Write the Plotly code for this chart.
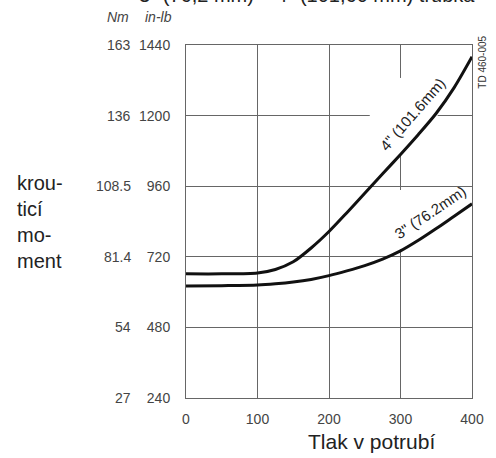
import plotly.graph_objects as go

# ---- data ----
pressure = [0, 50, 100, 125, 150, 175, 200, 225, 250, 275, 300, 325, 350, 375, 400]
torque_4in = [662, 662, 665, 677, 703, 750, 806, 870, 936, 1002, 1068, 1136, 1208, 1295, 1400]
torque_3in = [621, 622, 624, 628, 634, 643, 656, 672, 690, 712, 740, 776, 816, 858, 900]

x_ticks = [0, 100, 200, 300, 400]
y_ticks_inlb = [240, 480, 720, 960, 1200, 1440]
y_labels_inlb = ["240", "480", "720", "960", "1200", "1440"]
y_labels_nm = ["27", "54", "81.4", "108.5", "136", "163"]

label_4in = '4" (101.6mm)'
label_3in = '3" (76.2mm)'
title_text = '3" (76,2 mm) – 4" (101,60 mm) trubka'
x_title = "Tlak v potrubí"
y_title_lines = ["krou-", "ticí", "mo-", "ment"]
doc_code = "TD 460-005"

FONT = "Liberation Sans, Arial, sans-serif"
GRID = "#666666"
LBL = "#444444"

fig = go.Figure()
for ys in (torque_4in, torque_3in):
    fig.add_trace(go.Scatter(x=pressure, y=ys, mode="lines",
                             line=dict(color="#111111", width=3, shape="spline", smoothing=0.8),
                             showlegend=False, hoverinfo="skip"))

W, H = 496, 458
ml, mr, mt, mb = 186, 16, 45, 60
pw, ph = W - ml - mr, H - mt - mb

def px_x(px):
    return (px - ml) / pw

def px_y(py):
    return (H - mb - py) / ph

anns = []
# Nm column
for v, t in zip(y_ticks_inlb, y_labels_nm):
    anns.append(dict(x=px_x(132), xref="paper", y=v, yref="y", text=t, showarrow=False,
                     xanchor="right", yanchor="middle", font=dict(family=FONT, size=14, color=LBL)))
# unit headers
anns.append(dict(x=px_x(129), xref="paper", y=px_y(17), yref="paper", text="<i>Nm</i>", showarrow=False,
                 xanchor="right", yanchor="middle", font=dict(family=FONT, size=14, color=LBL)))
anns.append(dict(x=px_x(174), xref="paper", y=px_y(17), yref="paper", text="<i>in-lb</i>", showarrow=False,
                 xanchor="right", yanchor="middle", font=dict(family=FONT, size=14, color=LBL)))
# y title
anns.append(dict(x=px_x(10), xref="paper", y=px_y(222), yref="paper", text="<br>".join(y_title_lines),
                 showarrow=False, xanchor="left", yanchor="middle", align="left",
                 font=dict(family=FONT, size=20, color="#222222")))
# x title
anns.append(dict(x=px_x(377), xref="paper", y=px_y(441), yref="paper", text=x_title, showarrow=False,
                 xanchor="center", yanchor="middle", font=dict(family=FONT, size=21, color="#222222")))
# top (cut) title
anns.append(dict(x=px_x(136), xref="paper", y=px_y(8), yref="paper", text=title_text, showarrow=False,
                 xanchor="left", yanchor="bottom", font=dict(family=FONT, size=20, color="#222222")))
# doc code
anns.append(dict(x=px_x(491), xref="paper", y=px_y(62), yref="paper", text=doc_code, showarrow=False,
                 textangle=-90, xanchor="center", yanchor="middle", font=dict(family=FONT, size=10, color="#333333")))
# curve labels
anns.append(dict(x=316, y=1205, xref="x", yref="y", text=label_4in, showarrow=False, textangle=-49,
                 font=dict(family=FONT, size=15, color="#222222")))
anns.append(dict(x=341, y=872, xref="x", yref="y", text=label_3in, showarrow=False, textangle=-34,
                 font=dict(family=FONT, size=15, color="#222222")))

# white clearances in the grid around the curve labels
shapes = [
    dict(type="rect", xref="x", yref="y", x0=257, x1=352, y0=1185, y1=1215, layer="between",
         fillcolor="white", line=dict(width=0)),
    dict(type="rect", xref="x", yref="y", x0=294, x1=306, y0=1066, y1=1328, layer="between",
         fillcolor="white", line=dict(width=0)),
    dict(type="rect", xref="x", yref="y", x0=294, x1=306, y0=745, y1=947, layer="between",
         fillcolor="white", line=dict(width=0)),
]

fig.update_layout(
    width=W, height=H,
    margin=dict(l=ml, r=mr, t=mt, b=mb),
    paper_bgcolor="white", plot_bgcolor="white",
    annotations=anns, shapes=shapes,
    xaxis=dict(range=[0, 400], tickvals=x_ticks, showgrid=True, gridcolor=GRID, gridwidth=1,
               showline=True, linecolor=GRID, linewidth=1, mirror=True, zeroline=False,
               ticks="", ticklabelstandoff=8, tickfont=dict(family=FONT, size=14, color=LBL)),
    yaxis=dict(range=[240, 1440], tickvals=y_ticks_inlb, ticktext=y_labels_inlb, showgrid=True,
               gridcolor=GRID, gridwidth=1, showline=True, linecolor=GRID, linewidth=1, mirror=True,
               zeroline=False, ticks="", ticklabelstandoff=12,
               tickfont=dict(family=FONT, size=14, color=LBL)),
)

fig.write_html("out.html", config={"displayModeBar": False})

# remove the browser's default page margin so the chart sits at the window origin
with open("out.html", "r", encoding="utf-8") as f:
    html = f.read()
html = html.replace("<head>", "<head><style>html,body{margin:0;padding:0;overflow:hidden;}</style>", 1)
with open("out.html", "w", encoding="utf-8") as f:
    f.write(html)
